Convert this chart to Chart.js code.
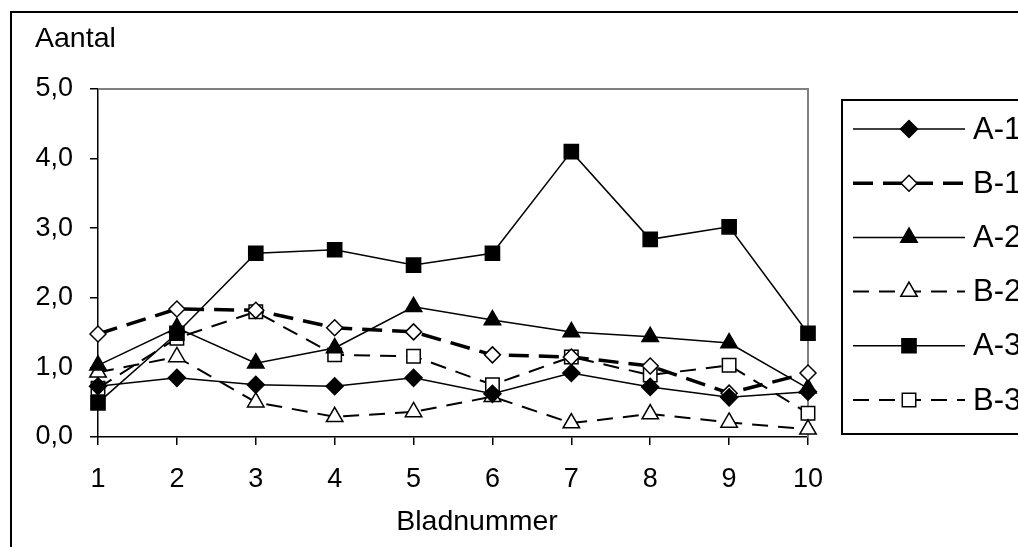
<!DOCTYPE html>
<html><head><meta charset="utf-8">
<script src="https://cdn.jsdelivr.net/npm/chart.js@4/dist/chart.umd.min.js"></script>
<style>html,body{margin:0;padding:0;background:#fff;overflow:hidden}#wrap{width:1018px;height:547px;position:relative}</style>
</head><body><div id="wrap"><canvas id="c" width="1018" height="547"></canvas></div>
<script>
const categories = ['1','2','3','4','5','6','7','8','9','10'];
const seriesNames = ['A-1','B-1','A-2','B-2','A-3','B-3'];
const a1 = [0.73, 0.85, 0.75, 0.73, 0.85, 0.62, 0.92, 0.72, 0.57, 0.65];
const b1 = [1.48, 1.84, 1.82, 1.57, 1.51, 1.18, 1.15, 1.02, 0.63, 0.92];
const a2 = [1.03, 1.57, 1.06, 1.28, 1.87, 1.68, 1.51, 1.44, 1.35, 0.70];
const b2 = [0.93, 1.15, 0.50, 0.29, 0.36, 0.58, 0.20, 0.33, 0.21, 0.11];
const a3 = [0.49, 1.49, 2.64, 2.69, 2.47, 2.64, 4.10, 2.84, 3.02, 1.49];
const b3 = [0.70, 1.42, 1.80, 1.18, 1.16, 0.75, 1.15, 0.89, 1.03, 0.34];
const yTickLabels = ['0,0','1,0','2,0','3,0','4,0','5,0'];
const yTitle = 'Aantal';
const xTitle = 'Bladnummer';

const FONT = '"Liberation Sans", Arial, sans-serif';
const seriesData = [a1, b1, a2, b2, a3, b3];
const styles = [
  {ps:'rectRot', r:8.5, fill:'#000', lw:1.5, dash:[]},
  {ps:'rectRot', r:8, fill:'#fff', lw:3.5, dash:[20,10]},
  {ps:'triangle', r:9.5, fill:'#000', lw:1.5, dash:[]},
  {ps:'triangle', r:9.5, fill:'#fff', lw:2, dash:[16,10]},
  {ps:'rect', r:10, fill:'#000', lw:1.5, dash:[]},
  {ps:'rect', r:9.5, fill:'#fff', lw:2, dash:[16,10]}
];
const datasets = seriesNames.map((n,i)=>({
  label:n, data:seriesData[i],
  borderColor:'#000', borderWidth:styles[i].lw, borderDash:styles[i].dash,
  pointStyle:styles[i].ps, pointRadius:styles[i].r, pointHoverRadius:styles[i].r,
  pointBackgroundColor:styles[i].fill, pointBorderColor:'#000', pointBorderWidth:1.5,
  tension:0, fill:false, clip:false
}));

function drawMarker(ctx, style, r, x, y, fill){
  ctx.save();
  ctx.fillStyle = fill; ctx.strokeStyle = '#000'; ctx.lineWidth = 1.5; ctx.setLineDash([]);
  if (Chart.helpers && Chart.helpers.drawPoint) {
    Chart.helpers.drawPoint(ctx, {pointStyle:style, radius:r, rotation:0, borderWidth:1.5}, x, y);
  }
  ctx.restore();
}

const framePlugin = {
  id:'frame',
  beforeDraw(chart){
    const ctx = chart.ctx;
    ctx.save();
    ctx.fillStyle='#fff'; ctx.fillRect(0,0,chart.width,chart.height);
    ctx.strokeStyle='#000'; ctx.lineWidth=2;
    ctx.strokeRect(11,12,2000,2000);
    ctx.restore();
  },
  beforeDatasetsDraw(chart){
    const ctx = chart.ctx, a = chart.chartArea;
    ctx.save();
    ctx.strokeStyle='#808080'; ctx.lineWidth=2;
    ctx.beginPath();
    ctx.moveTo(a.left, a.top); ctx.lineTo(a.right, a.top); ctx.lineTo(a.right, a.bottom);
    ctx.stroke();
    ctx.restore();
  },
  afterDraw(chart){
    const ctx = chart.ctx;
    ctx.save();
    ctx.fillStyle='#000';
    ctx.font = '28.5px ' + FONT;
    ctx.textBaseline='middle'; ctx.textAlign='left';
    ctx.fillText(yTitle, 35, 39);
    ctx.textAlign='center';
    ctx.fillText(xTitle, 477, 522);
    // legend
    ctx.strokeStyle='#000'; ctx.lineWidth=2;
    ctx.strokeRect(842,100,400,334);
    chart.data.datasets.forEach((ds,i)=>{
      const y = 129 + i*54.2;
      ctx.save();
      ctx.strokeStyle='#000'; ctx.lineWidth=ds.borderWidth; ctx.setLineDash(ds.borderDash||[]);
      ctx.beginPath(); ctx.moveTo(853,y); ctx.lineTo(965,y); ctx.stroke();
      ctx.restore();
      drawMarker(ctx, ds.pointStyle, ds.pointRadius, 909, y, ds.pointBackgroundColor);
      ctx.fillStyle='#000'; ctx.textAlign='left'; ctx.textBaseline='middle';
      ctx.font = '31px ' + FONT;
      ctx.fillText(ds.label, 973, y + 1);
    });
    ctx.restore();
  }
};

new Chart(document.getElementById('c'), {
  type:'line',
  data:{labels:categories, datasets:datasets},
  options:{
    responsive:false, animation:false, devicePixelRatio:1,
    layout:{padding:{left:0, top:89, right:210, bottom:0}},
    plugins:{legend:{display:false}, title:{display:false}, tooltip:{enabled:false}},
    scales:{
      x:{
        type:'category', offset:false,
        grid:{display:true, drawOnChartArea:false, drawTicks:true, tickLength:8, color:'#000', lineWidth:1.5},
        border:{display:true, color:'#000', width:1.5},
        ticks:{color:'#000', font:{family:FONT, size:27}, padding:18, maxRotation:0, autoSkip:false},
        afterFit(s){ s.height = 110; }
      },
      y:{
        min:0, max:5,
        grid:{display:true, drawOnChartArea:false, drawTicks:true, tickLength:8, color:'#000', lineWidth:1.5},
        border:{display:true, color:'#000', width:1.5},
        ticks:{stepSize:1, color:'#000', font:{family:FONT, size:27}, padding:17,
          callback:(v,i)=>yTickLabels[i]},
        afterFit(s){ s.width = 98; }
      }
    }
  },
  plugins:[framePlugin]
});
</script></body></html>
